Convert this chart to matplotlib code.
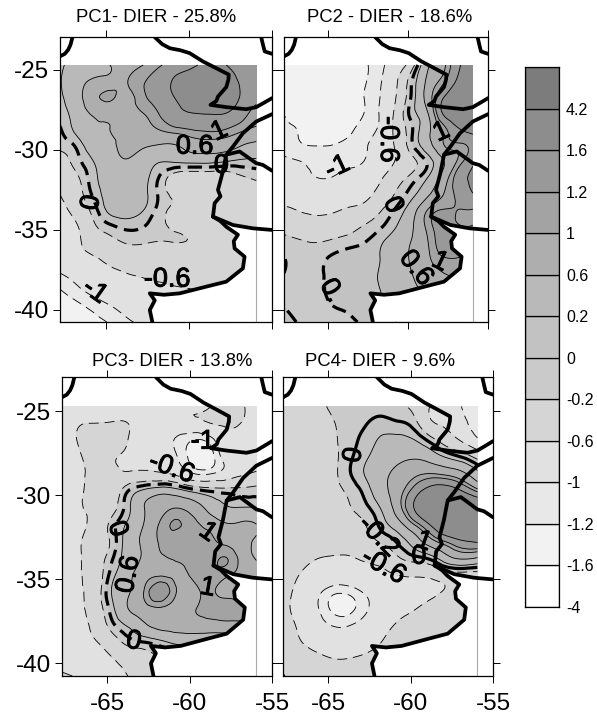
import numpy as np
import matplotlib
matplotlib.use("Agg")
import matplotlib.pyplot as plt
import matplotlib.tri as mtri
import matplotlib.patheffects as pe

plt.rcParams["font.family"] = ["Liberation Sans", "DejaVu Sans"]
plt.rcParams["axes.unicode_minus"] = False

W, H = 597, 715

# grid the anomaly values were read on
lons = [-67.75, -66.75, -65.75, -64.75, -63.75, -62.75, -61.75, -60.75, -59.75, -58.75, -57.75, -56.75, -55.95]
lats = [-24.7, -25.7, -26.7, -27.7, -28.7, -29.7, -30.7, -31.7, -32.7, -33.7, -34.7, -35.7, -36.7, -37.7, -38.7, -39.7, -40.75]

pc1 = [
    [0.15, 0.35, 0.5, 0.6, 0.85, 1.0, 1.18, 1.3, 1.5, 1.75, 1.6, 1.4, 1.3],
    [0.18, 0.45, 0.65, 0.75, 0.98, 1.18, 1.35, 1.7, 2.0, 2.2, 2.0, 1.45, 1.3],
    [0.15, 0.45, 0.88, 1.05, 0.92, 1.15, 1.35, 1.65, 2.1, 2.4, 2.1, 1.5, 1.3],
    [0.1, 0.35, 0.65, 0.72, 0.85, 1.0, 1.22, 1.45, 1.6, 1.65, 1.6, 1.3, 1.1],
    [-0.02, 0.28, 0.55, 0.6, 0.7, 0.85, 1.02, 1.15, 1.22, 1.25, 1.2, 1.05, 0.95],
    [-0.12, 0.05, 0.4, 0.55, 0.68, 0.66, 0.58, 0.6, 0.8, 0.85, 0.8, 0.6, 0.5],
    [-0.35, -0.08, 0.2, 0.45, 0.58, 0.4, 0.22, 0.25, 0.3, 0.3, 0.22, 0.15, 0.15],
    [-0.55, -0.25, 0.12, 0.35, 0.45, 0.3, -0.02, -0.35, -0.4, -0.4, -0.35, -0.22, -0.15],
    [-0.6, -0.35, 0.05, 0.32, 0.4, 0.28, -0.05, -0.3, -0.4, -0.45, -0.42, -0.38, -0.3],
    [-0.72, -0.45, -0.1, 0.28, 0.35, 0.22, -0.08, -0.3, -0.45, -0.48, -0.45, -0.42, -0.4],
    [-0.85, -0.62, -0.25, -0.02, 0.08, 0.02, -0.12, -0.3, -0.42, -0.5, -0.5, -0.5, -0.5],
    [-0.95, -0.68, -0.42, -0.28, -0.16, -0.15, -0.2, -0.18, -0.25, -0.42, -0.5, -0.5, -0.5],
    [-0.9, -0.72, -0.62, -0.5, -0.42, -0.45, -0.48, -0.5, -0.52, -0.55, -0.55, -0.55, -0.55],
    [-1.0, -0.88, -0.75, -0.66, -0.6, -0.58, -0.56, -0.56, -0.56, -0.57, -0.57, -0.57, -0.57],
    [-1.2, -1.05, -0.9, -0.8, -0.72, -0.68, -0.65, -0.62, -0.6, -0.6, -0.6, -0.6, -0.6],
    [-1.35, -1.25, -1.12, -1.0, -0.88, -0.78, -0.7, -0.7, -0.7, -0.7, -0.7, -0.7, -0.7],
    [-1.5, -1.4, -1.28, -1.18, -1.05, -0.95, -0.9, -0.9, -0.9, -0.9, -0.9, -0.9, -0.9],
]

pc2 = [
    [-1.3, -1.3, -1.3, -1.3, -1.28, -1.22, -1.08, -0.8, -0.35, 0.55, 0.95, 1.58, 1.8],
    [-1.3, -1.3, -1.3, -1.3, -1.28, -1.22, -1.03, -0.65, 0.0, 0.7, 1.15, 1.75, 2.0],
    [-1.3, -1.3, -1.3, -1.3, -1.27, -1.2, -1.0, -0.6, 0.05, 0.8, 1.6, 2.1, 2.3],
    [-1.21, -1.3, -1.32, -1.32, -1.28, -1.2, -0.98, -0.5, 0.1, 0.6, 1.7, 2.1, 2.2],
    [-1.15, -1.22, -1.3, -1.28, -1.24, -1.12, -0.95, -0.5, -0.02, 0.5, 1.1, 1.6, 1.8],
    [-1.08, -1.18, -1.21, -1.2, -1.15, -1.05, -0.82, -0.55, -0.03, 0.45, 1.0, 1.15, 1.3],
    [-0.95, -1.0, -1.05, -1.05, -1.05, -1.0, -0.78, -0.58, -0.28, 0.05, 0.6, 1.1, 1.5],
    [-0.85, -0.92, -1.0, -1.0, -0.92, -0.82, -0.65, -0.38, -0.12, 0.2, 0.8, 1.4, 1.7],
    [-0.7, -0.75, -0.8, -0.8, -0.75, -0.68, -0.5, -0.18, 0.1, 0.5, 1.0, 1.3, 1.6],
    [-0.58, -0.62, -0.66, -0.65, -0.58, -0.5, -0.25, 0.02, 0.4, 1.0, 1.2, 1.2, 1.2],
    [-0.35, -0.42, -0.46, -0.42, -0.35, -0.2, -0.05, 0.18, 0.55, 1.1, 1.3, 1.2, 1.2],
    [-0.12, -0.18, -0.22, -0.17, -0.1, -0.02, 0.15, 0.35, 0.62, 1.0, 1.35, 1.35, 1.35],
    [0.0, -0.06, -0.06, 0.02, 0.08, 0.12, 0.2, 0.42, 0.65, 0.95, 1.2, 1.2, 1.2],
    [0.0, -0.08, -0.05, 0.05, 0.1, 0.14, 0.22, 0.42, 0.6, 0.85, 1.0, 1.05, 1.05],
    [-0.02, -0.08, -0.04, 0.03, 0.08, 0.12, 0.2, 0.38, 0.52, 0.7, 0.8, 0.8, 0.8],
    [0.0, -0.06, -0.05, 0.0, 0.03, 0.08, 0.15, 0.3, 0.4, 0.5, 0.5, 0.5, 0.5],
    [0.08, -0.02, -0.06, -0.05, -0.03, 0.02, 0.08, 0.2, 0.3, 0.4, 0.4, 0.4, 0.4],
]

pc3 = [
    [-0.72, -0.72, -0.72, -0.72, -0.72, -0.7, -0.7, -0.72, -0.7, -0.62, -0.45, -0.58, -0.68],
    [-0.72, -0.62, -0.6, -0.58, -0.6, -0.72, -0.76, -0.72, -0.7, -0.6, -0.55, -0.62, -0.72],
    [-0.72, -0.58, -0.4, -0.42, -0.6, -0.78, -0.85, -1.05, -1.2, -1.1, -0.7, -0.68, -0.7],
    [-0.72, -0.65, -0.45, -0.55, -0.65, -0.68, -0.72, -1.0, -1.3, -1.3, -0.85, -0.72, -0.62],
    [-0.72, -0.68, -0.5, -0.52, -0.55, -0.52, -0.56, -0.7, -1.0, -1.02, -0.85, -0.65, -0.55],
    [-0.72, -0.65, -0.52, -0.42, -0.02, 0.25, 0.4, 0.3, 0.08, -0.05, -0.1, -0.12, -0.1],
    [-0.72, -0.62, -0.55, -0.35, 0.12, 0.6, 0.88, 0.98, 0.8, 0.45, 0.22, 0.2, 0.2],
    [-0.72, -0.65, -0.5, -0.12, 0.25, 0.62, 1.05, 1.22, 1.08, 0.85, 0.62, 0.65, 0.6],
    [-0.72, -0.62, -0.48, -0.15, 0.35, 0.7, 1.05, 1.12, 1.1, 1.05, 0.9, 0.72, 0.55],
    [-0.72, -0.62, -0.42, -0.05, 0.35, 0.68, 0.95, 1.05, 1.1, 1.12, 1.2, 0.85, 0.55],
    [-0.72, -0.62, -0.42, 0.08, 0.48, 0.85, 0.95, 0.92, 1.05, 1.12, 1.05, 0.9, 0.8],
    [-0.72, -0.62, -0.42, 0.2, 0.55, 1.02, 1.4, 0.98, 0.95, 1.02, 0.95, 0.9, 0.8],
    [-0.72, -0.65, -0.42, 0.1, 0.6, 0.88, 0.98, 0.92, 0.98, 1.05, 1.08, 1.05, 1.0],
    [-0.72, -0.68, -0.5, -0.08, 0.25, 0.55, 0.75, 0.8, 0.85, 0.88, 0.9, 0.9, 0.9],
    [-0.72, -0.7, -0.62, -0.38, -0.1, 0.02, 0.15, 0.3, 0.3, 0.25, 0.25, 0.25, 0.25],
    [-0.72, -0.72, -0.72, -0.62, -0.45, -0.32, -0.2, -0.2, -0.2, -0.2, -0.2, -0.2, -0.2],
    [-0.55, -0.62, -0.66, -0.7, -0.6, -0.5, -0.4, -0.4, -0.4, -0.4, -0.4, -0.4, -0.4],
]

pc4 = [
    [-0.35, -0.35, -0.3, -0.15, -0.12, -0.12, -0.12, -0.18, -0.3, -0.62, -0.72, -1.05, -1.08],
    [-0.35, -0.35, -0.32, -0.22, -0.12, -0.02, 0.08, 0.03, -0.12, -0.55, -0.68, -0.95, -1.05],
    [-0.35, -0.35, -0.32, -0.25, -0.08, 0.07, 0.24, 0.28, 0.2, -0.1, -0.4, -0.7, -0.95],
    [-0.35, -0.35, -0.32, -0.27, -0.05, 0.15, 0.38, 0.5, 0.55, 0.4, 0.15, -0.05, -0.3],
    [-0.35, -0.35, -0.32, -0.26, -0.03, 0.22, 0.48, 0.72, 0.92, 1.0, 0.9, 0.65, 0.3],
    [-0.35, -0.35, -0.34, -0.28, -0.15, 0.08, 0.45, 0.85, 1.35, 1.85, 1.9, 1.5, 1.1],
    [-0.35, -0.35, -0.34, -0.32, -0.22, -0.05, 0.25, 0.85, 1.65, 2.3, 2.6, 2.5, 2.3],
    [-0.35, -0.36, -0.36, -0.36, -0.32, -0.2, 0.08, 0.45, 1.05, 1.7, 2.4, 2.6, 2.5],
    [-0.38, -0.38, -0.4, -0.42, -0.42, -0.32, -0.15, 0.05, 0.4, 0.9, 1.3, 1.6, 1.7],
    [-0.42, -0.48, -0.58, -0.62, -0.62, -0.55, -0.45, -0.22, -0.05, 0.1, 0.5, 0.7, 0.6],
    [-0.48, -0.6, -0.72, -0.78, -0.78, -0.72, -0.68, -0.58, -0.55, -0.5, -0.35, -0.3, -0.3],
    [-0.5, -0.68, -0.9, -1.12, -1.12, -0.95, -0.82, -0.75, -0.7, -0.68, -0.55, -0.5, -0.5],
    [-0.5, -0.72, -0.95, -1.25, -1.28, -1.05, -0.85, -0.72, -0.62, -0.5, -0.45, -0.45, -0.45],
    [-0.45, -0.65, -0.85, -1.02, -1.02, -0.88, -0.72, -0.56, -0.45, -0.42, -0.42, -0.42, -0.42],
    [-0.38, -0.58, -0.72, -0.8, -0.8, -0.72, -0.6, -0.48, -0.42, -0.4, -0.4, -0.4, -0.4],
    [-0.32, -0.42, -0.52, -0.6, -0.6, -0.55, -0.5, -0.45, -0.4, -0.4, -0.4, -0.4, -0.4],
    [-0.18, -0.32, -0.38, -0.4, -0.4, -0.4, -0.4, -0.4, -0.4, -0.4, -0.4, -0.4, -0.4],
]

# colour classes
levels = [-4, -1.6, -1.2, -1, -0.6, -0.2, 0, 0.2, 0.6, 1, 1.2, 1.6, 4.2, 9]
greys = ["#ffffff", "#f2f2f2", "#e8e8e8", "#e1e1e1", "#d5d5d5", "#cacaca", "#c2c2c2",
         "#b9b9b9", "#aeaeae", "#a3a3a3", "#999999", "#8d8d8d", "#7c7c7c"]
bar_labels = ["-4", "-1.6", "-1.2", "-1", "-0.6", "-0.2", "0", "0.2", "0.6", "1", "1.2", "1.6", "4.2"]

neg_lines = [-1.6, -1.2, -1, -0.6, -0.2]
pos_lines = [0.2, 0.6, 1, 1.2, 1.6]

# coast and borders, lon/lat
west_andes = [(-67.0, -22.96), (-67.12, -23.44), (-67.26, -23.75), (-67.46, -24.0), (-67.77, -24.17)]
paraguay = [(-62.05, -22.96), (-61.6, -23.4), (-61.15, -23.65), (-60.5, -23.78), (-59.95, -23.96), (-59.15, -24.48),
            (-58.35, -24.9), (-57.6, -25.3), (-57.62, -25.6), (-57.75, -26.08), (-58.25, -26.67), (-58.35, -26.95),
            (-58.7, -27.19), (-57.75, -27.33), (-56.55, -27.46), (-55.95, -27.33), (-55.35, -26.98), (-55.0, -26.77)]
uruguay_river = [(-55.0, -27.77), (-55.95, -28.23), (-56.75, -28.96), (-57.35, -29.8), (-57.75, -30.3),
                 (-57.85, -30.8), (-57.98, -31.46), (-58.25, -32.5), (-58.1, -32.9), (-58.45, -33.33), (-58.55, -34.17)]
south_coast = [(-58.55, -34.17), (-58.1, -34.45), (-57.75, -34.8), (-57.05, -35.3), (-57.3, -35.7), (-57.25, -36.15),
               (-56.65, -36.67), (-56.75, -37.4), (-57.75, -38.23), (-58.95, -38.54), (-60.55, -38.96),
               (-61.5, -39.05), (-62.35, -38.96), (-62.05, -39.4), (-62.35, -40.0), (-62.2, -40.73)]
brazil_border = [(-57.75, -30.3), (-56.95, -30.1), (-55.95, -30.83), (-55.55, -30.94), (-55.0, -31.3)]
uruguay_coast = [(-58.55, -34.17), (-57.35, -34.69), (-56.15, -34.9), (-55.0, -35.0)]
top_right = [(-55.65, -22.96), (-55.55, -23.4), (-55.44, -23.85), (-55.0, -24.0)]
borders = [west_andes, paraguay, uruguay_river, south_coast, brazil_border, uruguay_coast, top_right]

# panel frames in pixels: left, right, top, bottom
panels = [
    ("PC1- DIER - 25.8%", pc1, (60, 272, 37, 322), 156, 18),
    ("PC2 - DIER - 18.6%", pc2, (284, 488, 37, 322), 390, 18),
    ("PC3- DIER - 13.8%", pc3, (62, 272, 377, 676), 172, 362),
    ("PC4- DIER - 9.6%", pc4, (283, 493, 377, 676), 380, 362),
]

# contour labels: lon, lat, text, rotation
labels = [
    [(-58.15, -28.85, "1", 25), (-59.65, -29.8, "0.6", 0), (-58.05, -31.0, "0", 0),
     (-65.85, -33.3, "0", 80), (-61.3, -38.1, "-0.6", 0), (-65.65, -38.85, "-1", -35)],
    [(-57.9, -28.9, "1", 25), (-61.25, -29.35, "-0.6", -90), (-64.4, -31.1, "-1", 25),
     (-60.95, -33.45, "0", -65), (-64.8, -38.8, "0.", -60), (-59.5, -37.4, "0.6", -50), (-58.0, -37.0, "1", -25)],
    [(-59.2, -26.8, "-1", 0), (-61.1, -28.4, "-0.6", -20), (-64.4, -32.0, "0", -70), (-58.9, -32.2, "1", -35),
     (-63.7, -34.7, "0.6", 80), (-58.9, -35.5, "1", -10), (-63.4, -38.7, "0", -10)],
    [(-63.45, -27.6, "0", 80), (-61.95, -32.45, "-0.2", -45), (-61.65, -34.25, "-0.6", -30),
     (-59.2, -32.75, "1", -20), (-59.5, -33.65, "0", 0)],
]

fig = plt.figure(figsize=(W / 100, H / 100), dpi=100)


def add_axes_px(l, r, t, b):
    return fig.add_axes([l / W, 1 - b / H, (r - l) / W, (b - t) / H])


# triangles over the regular grid, refined for smooth contours like the original
nx, ny = len(lons), len(lats)
gx, gy = np.meshgrid(lons, lats)
tris = []
for j in range(ny - 1):
    for i in range(nx - 1):
        a = j * nx + i
        tris.append([a, a + 1, a + nx])
        tris.append([a + 1, a + nx + 1, a + nx])
tri = mtri.Triangulation(gx.ravel(), gy.ravel(), tris)
refiner = mtri.UniformTriRefiner(tri)

for n, (title, values, box, tx, ty) in enumerate(panels):
    ax = add_axes_px(*box)
    fine_tri, fine_z = refiner.refine_field(np.array(values).ravel(), subdiv=3)
    ax.tricontourf(fine_tri, fine_z, levels=levels, colors=greys, zorder=1)
    ax.tricontour(fine_tri, fine_z, levels=neg_lines, colors="k", linewidths=0.6,
                  linestyles=[(0, (12, 7))], zorder=2)
    ax.tricontour(fine_tri, fine_z, levels=pos_lines, colors="k", linewidths=0.6,
                  linestyles="solid", zorder=2)
    zero_style = "solid" if n == 3 else [(0, (4.5, 2.2))]
    ax.tricontour(fine_tri, fine_z, levels=[0], colors="k", linewidths=2.3,
                  linestyles=zero_style, zorder=3)

    # nothing is plotted over the sea
    sea = south_coast + [(-55.0, -40.75)] + uruguay_coast[::-1]
    ax.fill([p[0] for p in sea], [p[1] for p in sea], color="white", lw=0, zorder=4)
    ax.plot([-55.95, -55.95], [-34.8, -40.75], color="#aaaaaa", lw=0.8, zorder=5)

    for line in borders:
        ax.plot([p[0] for p in line], [p[1] for p in line], color="k", lw=2.7,
                solid_capstyle="round", solid_joinstyle="round", zorder=6)

    for lon, lat, txt, rot in labels[n]:
        ax.text(lon, lat, txt, fontsize=19.5, rotation=rot, ha="center", va="center",
                rotation_mode="anchor", zorder=7,
                path_effects=[pe.withStroke(linewidth=0.7, foreground="k")])

    ax.set_xlim(-67.75, -55)
    ax.set_ylim(-40.75, -22.95)
    ax.set_xticks([-65, -60, -55])
    ax.set_yticks([-25, -30, -35, -40])
    ax.tick_params(direction="out", length=5, width=0.7, top=True, right=True,
                   labelsize=17.5, pad=3,
                   labelbottom=n >= 2, labelleft=n in (0, 2))
    ax.tick_params(axis="x", pad=7)
    for s in ax.spines.values():
        s.set_linewidth(0.9)
        s.set_zorder(8)
    fig.text(tx / W, 1 - ty / H, title, fontsize=13.3, ha="center", va="center")

# colour key
cax = add_axes_px(525, 559, 67, 607)
for i, c in enumerate(greys):
    cax.bar(0.5, 1, bottom=i, width=1, color=c, edgecolor="k", linewidth=0.9)
cax.set_xlim(0, 1)
cax.set_ylim(0, len(greys))
cax.set_xticks([])
cax.yaxis.tick_right()
cax.set_yticks(range(len(bar_labels)))
cax.set_yticklabels(bar_labels, fontsize=11.5)
cax.tick_params(axis="y", length=0, pad=5)
for s in cax.spines.values():
    s.set_linewidth(0.9)

fig.savefig("out.png", dpi=100)
